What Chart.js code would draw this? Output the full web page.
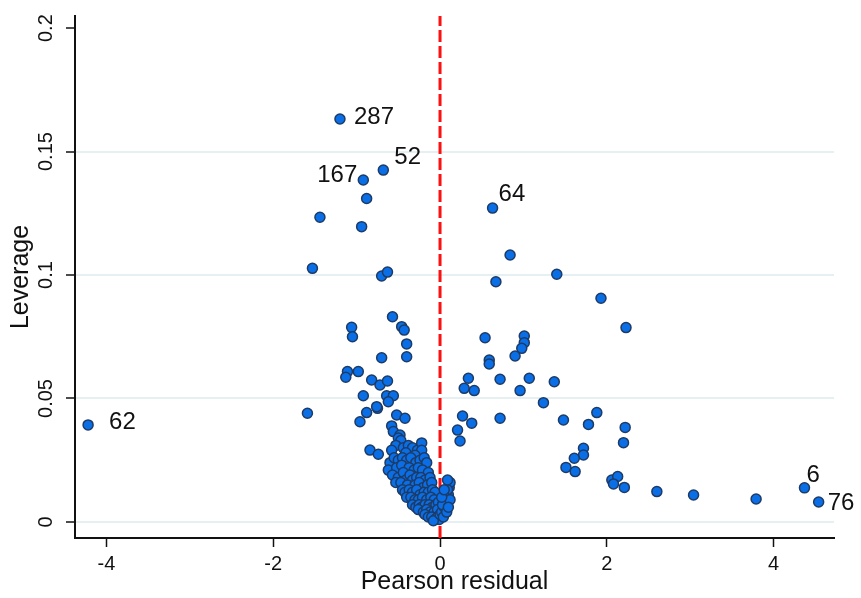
<!DOCTYPE html>
<html>
<head>
<meta charset="utf-8">
<script src="https://cdn.jsdelivr.net/npm/chart.js@4.4.0/dist/chart.umd.min.js"></script>
<style>
  body { margin: 0; background: #fff; }
  #wrap { width: 861px; height: 598px; }
</style>
</head>
<body>
<div id="wrap"><canvas id="lvr2" width="861" height="598"></canvas></div>
<script>
// observations: Pearson residual (x) vs leverage (y)
const resX = [
  -1.53, -1.44, -0.94, -0.88, -0.70, -0.63, -0.57, -1.06, -1.05, -0.46, -0.43, -0.40, -0.40, -0.70,
  -1.11, -0.98, -1.13, -0.82, -0.72, -0.63, -0.92, -0.64, -0.56, -0.62, -0.75, -0.88, -1.59, -0.96,
  -0.52, -0.42, -0.58, -0.76, -0.56, -0.48, -0.84, -0.74,
  // dense group around zero
  -0.50, -0.47, -0.53, -0.44, -0.38, -0.33, -0.27, -0.22, -0.22, -0.58, -0.41, -0.30,
  -0.60, -0.55, -0.50, -0.45, -0.40, -0.35, -0.29, -0.24, -0.19, -0.16, -0.62, -0.52, -0.46, -0.37, -0.31, -0.26, -0.21, -0.14,
  -0.57, -0.50, -0.44, -0.41, -0.36, -0.33, -0.28, -0.23, -0.18, -0.12, -0.53, -0.47, -0.39, -0.30, -0.25, -0.20, -0.15, -0.10,
  -0.45, -0.42, -0.37, -0.33, -0.28, -0.24, -0.19, -0.14, -0.09, -0.06, -0.40, -0.35, -0.30, -0.26, -0.21, -0.16, -0.11, -0.07,
  -0.33, -0.29, -0.25, -0.22, -0.18, -0.13, -0.09, -0.05, -0.02, -0.26, -0.20, -0.16, -0.12, -0.07, -0.03,
  -0.18, -0.14, -0.10, -0.06, -0.03, -0.01, -0.08, 0.00,
  0.02, 0.04, 0.05, 0.07, 0.10, 0.11, 0.12, 0.09, 0.06, 0.03, 0.08, 0.12, 0.10, 0.02, 0.05, 0.09,
  // right side
  0.84, 0.67, 1.40, 1.93, 2.23, 0.54, 1.01, 1.01, 0.98, 0.90, 0.59, 0.59, 0.34, 0.72, 1.07, 1.37,
  0.29, 0.41, 0.96, 1.24, 0.27, 0.38, 0.72, 1.48, 1.78, 1.88, 2.22, 0.21, 0.24, 2.20, 1.72, 1.72,
  1.61, 1.51, 1.62, 2.06, 2.13, 2.08, 2.21, 2.60, 3.04, 3.79
];
const levY = [
  0.1027, 0.1234, 0.1196, 0.1310, 0.0996, 0.1012, 0.0831, 0.0788, 0.0750, 0.0791, 0.0777, 0.0721, 0.0669, 0.0665,
  0.0609, 0.0609, 0.0586, 0.0575, 0.0555, 0.0571, 0.0511, 0.0511, 0.0511, 0.0487, 0.0460, 0.0443, 0.0440, 0.0406,
  0.0433, 0.0420, 0.0389, 0.0467, 0.0366, 0.0352, 0.0291, 0.0274,
  0.034, 0.033, 0.031, 0.030, 0.031, 0.030, 0.029, 0.032, 0.029, 0.029, 0.028, 0.027,
  0.024, 0.026, 0.025, 0.026, 0.025, 0.026, 0.024, 0.025, 0.026, 0.024, 0.021, 0.022, 0.023, 0.022, 0.021, 0.022, 0.021, 0.020,
  0.019, 0.018, 0.020, 0.017, 0.019, 0.017, 0.018, 0.018, 0.017, 0.018, 0.016, 0.016, 0.015, 0.015, 0.016, 0.014, 0.015, 0.016,
  0.013, 0.012, 0.013, 0.012, 0.013, 0.011, 0.012, 0.012, 0.013, 0.012, 0.010, 0.010, 0.009, 0.009, 0.010, 0.009, 0.010, 0.009,
  0.007, 0.006, 0.007, 0.006, 0.007, 0.007, 0.006, 0.007, 0.008, 0.005, 0.004, 0.005, 0.004, 0.004, 0.005,
  0.003, 0.002, 0.002, 0.001, 0.002, 0.001, 0.0005, 0.003,
  0.004, 0.002, 0.006, 0.008, 0.011, 0.014, 0.016, 0.013, 0.010, 0.007, 0.004, 0.009, 0.006, 0.010, 0.013, 0.017,
  0.1081, 0.0973, 0.1003, 0.0906, 0.0787, 0.0746, 0.0753, 0.0726, 0.0703, 0.0672, 0.0656, 0.0640, 0.0582, 0.0578, 0.0582, 0.0568,
  0.0541, 0.0532, 0.0532, 0.0483, 0.0429, 0.0400, 0.0420, 0.0413, 0.0395, 0.0443, 0.0383, 0.0372, 0.0328, 0.0321, 0.0298, 0.0271,
  0.0258, 0.0221, 0.0204, 0.0170, 0.0184, 0.0154, 0.0140, 0.0123, 0.0109, 0.0093
];

// labelled observations
const labText = ['287', '52', '167', '64', '62', '6', '76'];
const labX = [-1.20, -0.68, -0.92, 0.63, -4.22, 4.37, 4.54];
const labY = [0.1632, 0.1425, 0.1385, 0.1271, 0.0393, 0.0138, 0.0081];

const xTicks = [-4, -2, 0, 2, 4];
const xTickLabels = ['-4', '-2', '0', '2', '4'];
const yTicks = [0, 0.05, 0.1, 0.15, 0.2];
const yTickLabels = ['0', '0.05', '0.1', '0.15', '0.2'];

const xRange = [-4.377, 4.724];
const yRange = [-0.0065, 0.2049];
const refLineX = [0, 0];

// label placement (text offset from marker, px)
const labStyle = [
  { dx: 14, dy: -2, align: 'left' },
  { dx: 11, dy: -13, align: 'left' },
  { dx: -6, dy: -5, align: 'right' },
  { dx: 6, dy: -14, align: 'left' },
  { dx: 21, dy: -3, align: 'left' },
  { dx: 2, dy: -12, align: 'left' },
  { dx: 9, dy: 1, align: 'left' }
];

const toPts = (xs, ys) => xs.map((x, i) => ({ x: x, y: ys[i] }));

const pointLabels = {
  id: 'pointLabels',
  afterDatasetsDraw(chart) {
    const meta = chart.getDatasetMeta(1);
    const ctx = chart.ctx;
    ctx.save();
    ctx.font = '24px "Liberation Sans", Arial, sans-serif';
    ctx.fillStyle = '#111';
    ctx.textBaseline = 'middle';
    meta.data.forEach((el, i) => {
      const s = labStyle[i];
      ctx.textAlign = s.align;
      ctx.fillText(labText[i], el.x + s.dx, el.y + s.dy);
    });
    ctx.restore();
  }
};

const markerStyle = {
  pointRadius: 5,
  pointHoverRadius: 5,
  pointBackgroundColor: '#0a6fe6',
  pointBorderColor: '#1d3b66',
  pointBorderWidth: 1.5
};

new Chart(document.getElementById('lvr2'), {
  type: 'scatter',
  data: {
    datasets: [
      Object.assign({ label: 'obs', data: toPts(resX, levY), order: 1, clip: false }, markerStyle),
      Object.assign({ label: 'labelled', data: toPts(labX, labY), order: 1, clip: false }, markerStyle),
      {
        label: 'zero',
        type: 'line',
        data: toPts(refLineX, yRange),
        borderColor: '#ff1010',
        borderWidth: 3,
        borderDash: [12, 4],
        pointRadius: 0,
        fill: false,
        order: 5
      }
    ]
  },
  options: {
    responsive: false,
    animation: false,
    devicePixelRatio: 1,
    layout: { padding: { top: 16, right: 27, left: 0, bottom: 0 } },
    plugins: { legend: { display: false }, tooltip: { enabled: false } },
    scales: {
      x: {
        type: 'linear',
        min: xRange[0],
        max: xRange[1],
        afterFit: s => { s.height = 60; },
        afterBuildTicks: s => { s.ticks = xTicks.map(v => ({ value: v })); },
        ticks: {
          callback: (v, i) => xTickLabels[i],
          font: { family: '"Liberation Sans", Arial, sans-serif', size: 20 },
          color: '#111',
          padding: 5,
          maxRotation: 0
        },
        grid: { drawOnChartArea: false, drawTicks: true, tickLength: 9, tickColor: '#111', tickWidth: 1.5 },
        border: { display: true, color: '#111', width: 2 },
        title: {
          display: true,
          text: 'Pearson residual',
          font: { family: '"Liberation Sans", Arial, sans-serif', size: 25 },
          color: '#111',
          padding: { top: 0, bottom: 1 }
        }
      },
      y: {
        type: 'linear',
        min: yRange[0],
        max: yRange[1],
        afterFit: s => { s.width = 75; },
        afterBuildTicks: s => { s.ticks = yTicks.map(v => ({ value: v })); },
        ticks: {
          callback: (v, i) => yTickLabels[i],
          font: { family: '"Liberation Sans", Arial, sans-serif', size: 20 },
          color: '#111',
          minRotation: 90,
          maxRotation: 90,
          crossAlign: 'center',
          padding: 0,
          autoSkip: false
        },
        grid: {
          color: ctx => (ctx.tick && ctx.tick.value < 0.19 ? '#e6eff1' : 'rgba(0,0,0,0)'),
          lineWidth: 2,
          drawTicks: true,
          tickLength: 9,
          tickColor: '#111',
          tickWidth: 1.5
        },
        border: { display: true, color: '#111', width: 2 },
        title: {
          display: true,
          text: 'Leverage',
          font: { family: '"Liberation Sans", Arial, sans-serif', size: 25 },
          color: '#111',
          padding: { top: 6, bottom: 0 }
        }
      }
    }
  },
  plugins: [pointLabels]
});
</script>
</body>
</html>
